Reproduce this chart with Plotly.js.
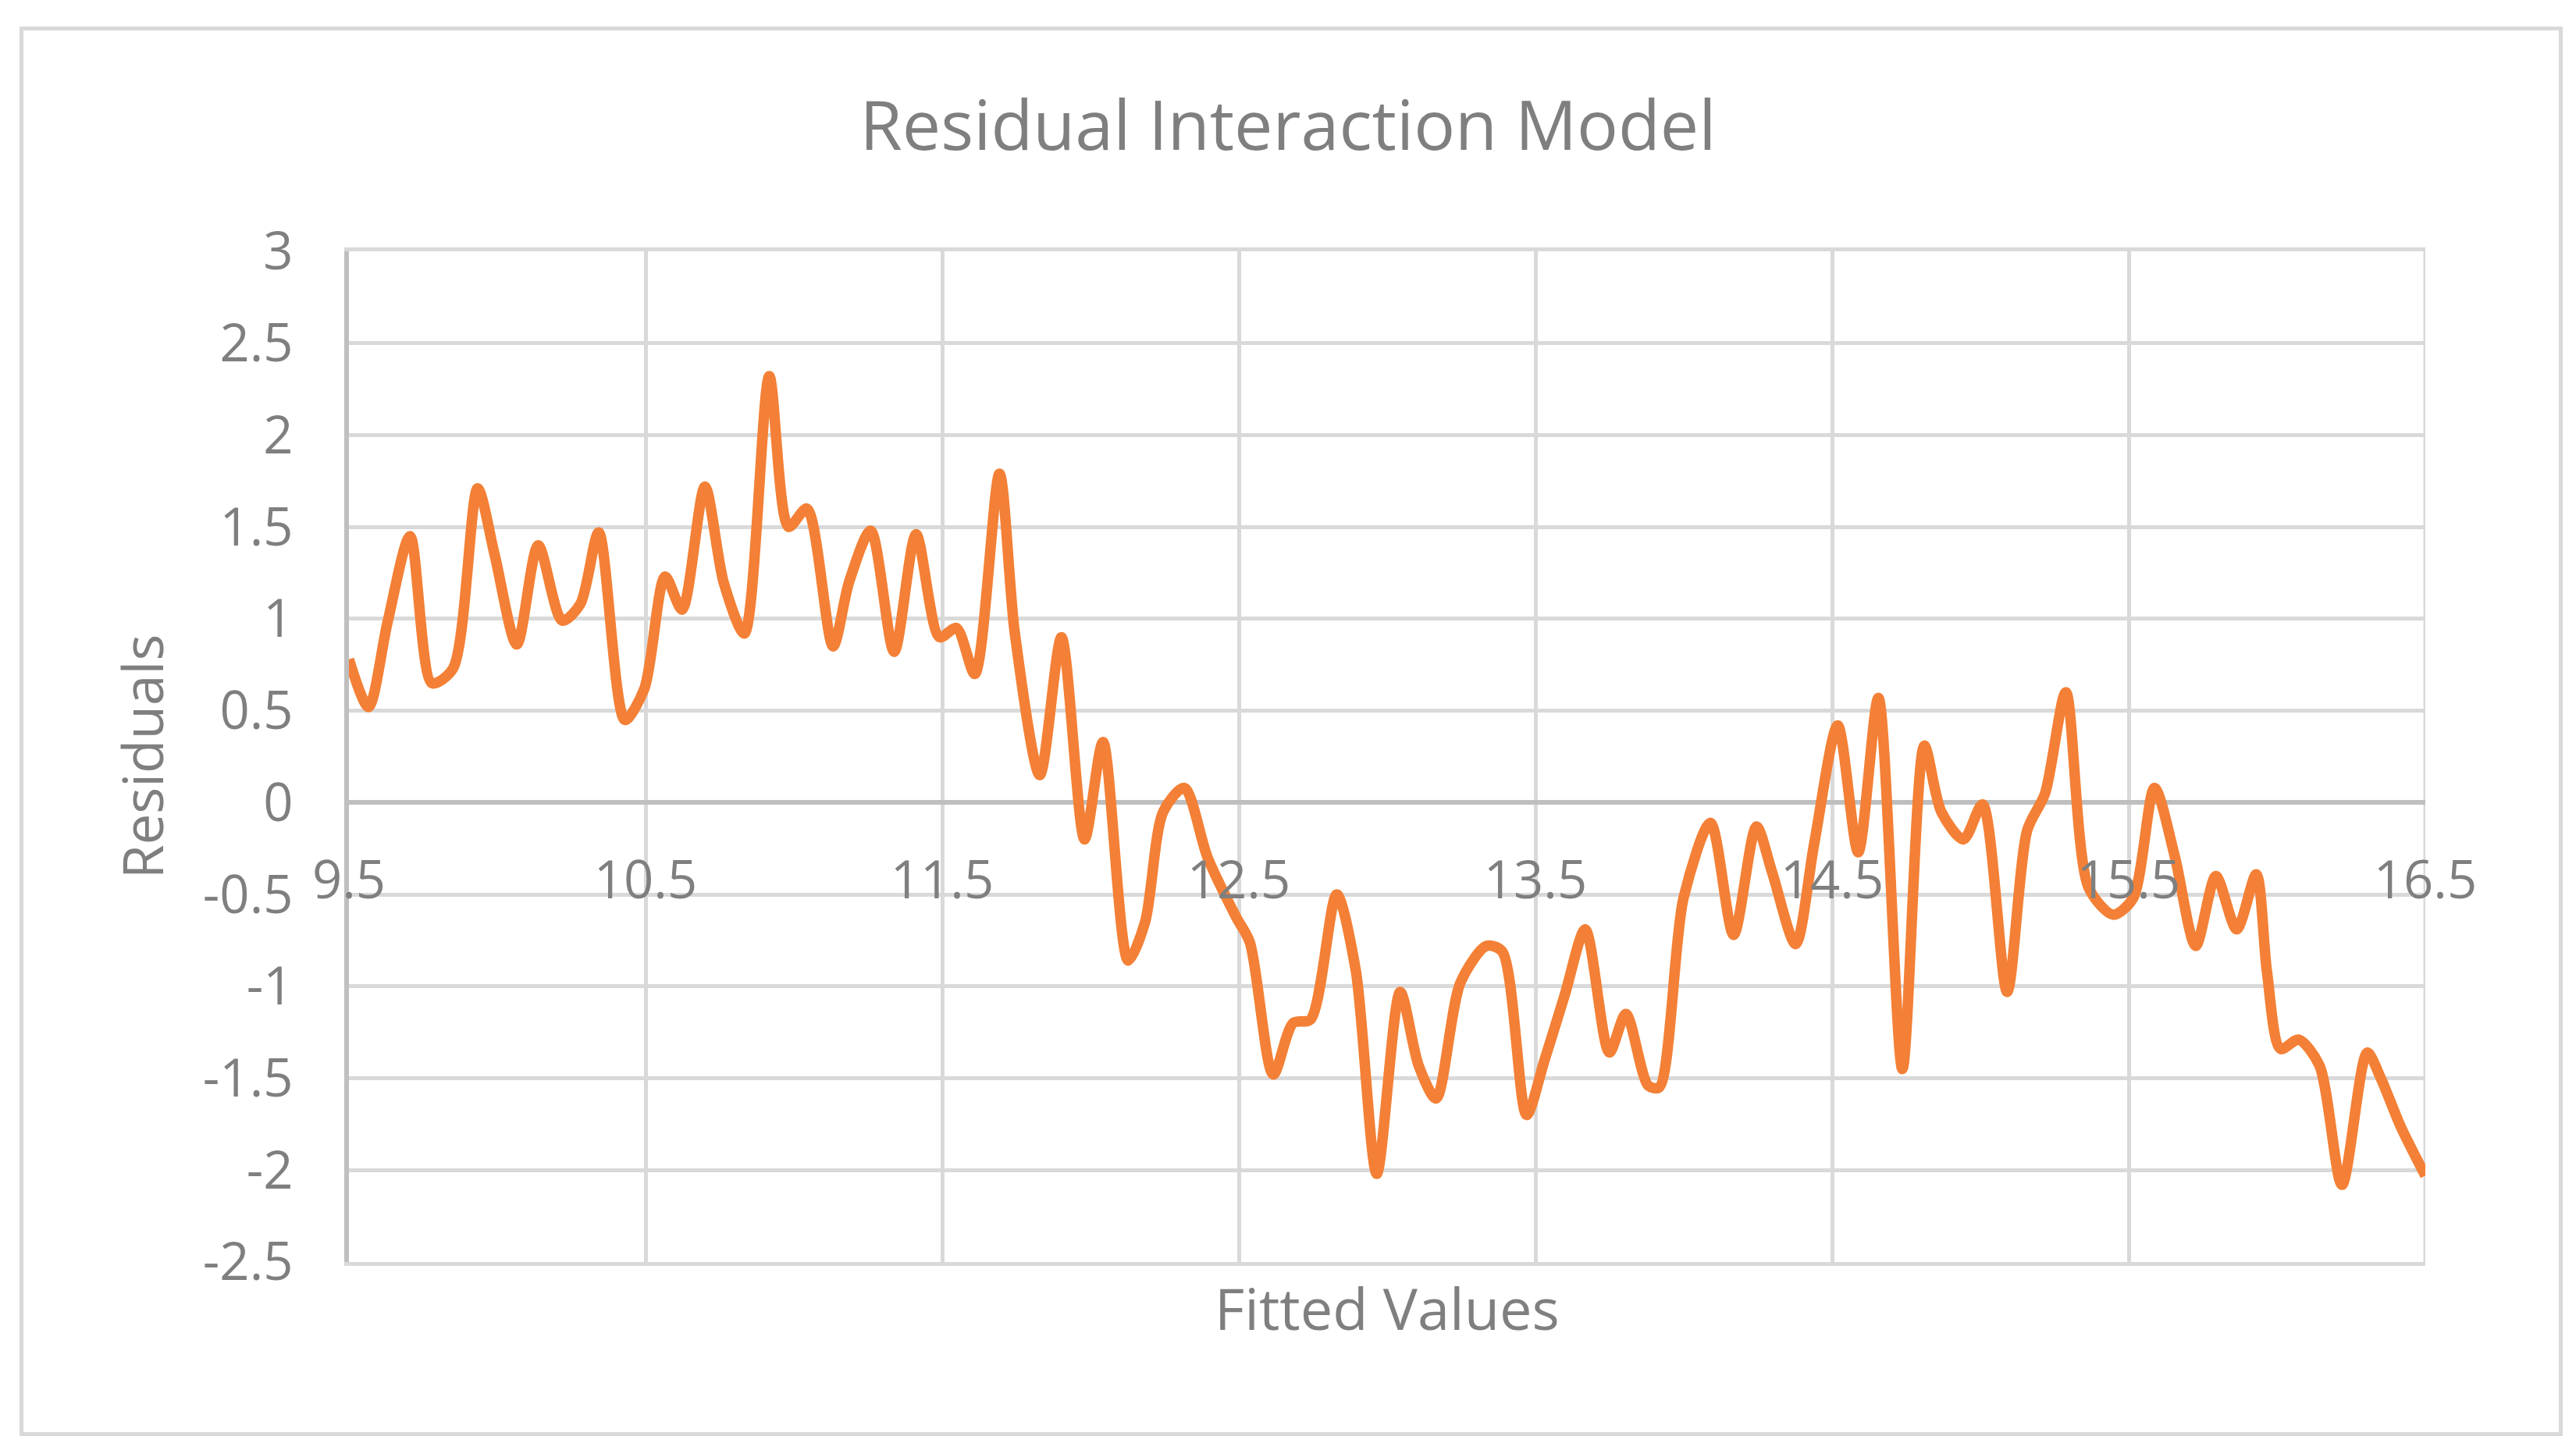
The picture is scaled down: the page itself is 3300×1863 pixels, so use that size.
<!DOCTYPE html>
<html>
<head>
<meta charset="utf-8">
<script src="https://cdn.plot.ly/plotly-3.0.1.min.js"></script>
<style>
  html, body { margin: 0; padding: 0; background: #ffffff; }
  #frame { position: absolute; left: 25px; top: 34px; width: 3258px; height: 1806px;
           border: 5px solid #D9D9D9; box-sizing: border-box; }
  #chart { position: absolute; left: 0; top: 0; width: 3300px; height: 1863px; }
</style>
</head>
<body>
<div id="frame"></div>
<div id="chart"></div>
<script>
// Fitted values (x) and residuals (y)
const fittedValues = [
  9.50, 9.566, 9.63, 9.706, 9.78, 9.851, 9.934, 9.991, 10.066, 10.138,
  10.219, 10.28, 10.342, 10.43, 10.496, 10.566, 10.623, 10.70, 10.763, 10.833,
  10.917, 10.982, 11.044, 11.132, 11.186, 11.259, 11.338, 11.412, 11.491, 11.548,
  11.61, 11.693, 11.745, 11.829, 11.902, 11.98, 12.042, 12.127, 12.184, 12.245,
  12.316, 12.395, 12.49, 12.537, 12.616, 12.683, 12.742, 12.83, 12.894, 12.965,
  13.044, 13.106, 13.165, 13.247, 13.335, 13.388, 13.47, 13.529, 13.60, 13.668,
  13.749, 13.805, 13.88, 13.917, 13.999, 14.09, 14.168, 14.245, 14.298, 14.377,
  14.44, 14.519, 14.588, 14.656, 14.737, 14.811, 14.868, 14.943, 15.007, 15.09,
  15.158, 15.218, 15.288, 15.364, 15.448, 15.515, 15.587, 15.655, 15.726, 15.794,
  15.864, 15.93, 15.966, 16.012, 16.073, 16.143, 16.219, 16.304, 16.35, 16.416,
  16.50
];
const residuals = [
  0.78, 0.52, 0.98, 1.45, 0.65, 0.73, 1.71, 1.35, 0.86, 1.40,
  0.99, 1.08, 1.47, 0.45, 0.62, 1.23, 1.05, 1.72, 1.20, 0.92,
  2.32, 1.50, 1.60, 0.85, 1.20, 1.48, 0.82, 1.46, 0.90, 0.95,
  0.70, 1.79, 0.92, 0.15, 0.90, -0.20, 0.33, -0.86, -0.65, -0.05,
  0.08, -0.30, -0.62, -0.76, -1.48, -1.20, -1.18, -0.50, -0.91, -2.02,
  -1.03, -1.43, -1.61, -0.98, -0.78, -0.81, -1.70, -1.41, -1.04, -0.69,
  -1.36, -1.15, -1.54, -1.55, -0.52, -0.11, -0.72, -0.13, -0.38, -0.77,
  -0.22, 0.42, -0.27, 0.57, -1.45, 0.31, -0.05, -0.20, -0.01, -1.03,
  -0.15, 0.05, 0.60, -0.46, -0.61, -0.52, 0.08, -0.29, -0.78, -0.40,
  -0.69, -0.39, -0.92, -1.34, -1.29, -1.43, -2.08, -1.36, -1.50, -1.76,
  -2.03
];
const xTickValues = [9.5, 10.5, 11.5, 12.5, 13.5, 14.5, 15.5, 16.5];
const xTickLabels = ["9.5", "10.5", "11.5", "12.5", "13.5", "14.5", "15.5", "16.5"];
const yTickValues = [3, 2.5, 2, 1.5, 1, 0.5, 0, -0.5, -1, -1.5, -2, -2.5];
const yTickLabels = ["3", "2.5", "2", "1.5", "1", "0.5", "0", "-0.5", "-1", "-1.5", "-2", "-2.5"];
const xRange = [9.5, 16.5];
const yRange = [-2.5, 3];

const FONT = "'Open Sans', Lato, sans-serif";
const TXT = "#7F7F7F";
const GRID = "#D9D9D9";
const AXIS = "#BFBFBF";

const trace = {
  x: fittedValues,
  y: residuals,
  type: "scatter",
  mode: "lines",
  line: { color: "#F38036", width: 13.5, shape: "spline", smoothing: 0.8 },
  hoverinfo: "x+y",
  showlegend: false
};
// empty helper trace so that the tick-label axis crossing at y = 0 is drawn
const labelAxisTrace = {
  x: [], y: [], type: "scatter", mode: "lines",
  xaxis: "x2", yaxis: "y", hoverinfo: "skip", showlegend: false
};

const layout = {
  width: 3300,
  height: 1863,
  margin: { l: 447, r: 193, t: 322, b: 246 },
  paper_bgcolor: "rgba(0,0,0,0)",
  plot_bgcolor: "rgba(0,0,0,0)",
  showlegend: false,
  title: {
    text: "Residual Interaction Model",
    font: { family: FONT, size: 88, color: TXT },
    x: 0.5, xref: "container", xanchor: "center",
    y: 1 - 161 / 1863, yref: "container", yanchor: "middle"
  },
  xaxis: {
    range: xRange,
    tickvals: xTickValues,
    showticklabels: false,
    ticks: "",
    showgrid: true, gridcolor: GRID, gridwidth: 5,
    zeroline: false,
    showline: true, mirror: true, linecolor: GRID, linewidth: 5,
    title: { text: "Fitted Values", font: { family: FONT, size: 74, color: TXT }, standoff: 33 }
  },
  xaxis2: {
    overlaying: "x",
    anchor: "free",
    position: (0 - yRange[0]) / (yRange[1] - yRange[0]),
    side: "bottom",
    range: xRange,
    tickvals: xTickValues,
    ticktext: xTickLabels,
    ticks: "",
    ticklabelstandoff: 55,
    tickfont: { family: FONT, size: 67, color: TXT },
    showgrid: false, zeroline: false, showline: false
  },
  yaxis: {
    range: yRange,
    tickvals: yTickValues,
    ticktext: yTickLabels,
    ticks: "",
    ticklabelstandoff: 52,
    tickfont: { family: FONT, size: 67, color: TXT },
    showgrid: true, gridcolor: GRID, gridwidth: 5,
    zeroline: true, zerolinecolor: AXIS, zerolinewidth: 6,
    showline: true, linecolor: AXIS, linewidth: 6,
    title: { text: "Residuals", font: { family: FONT, size: 71, color: TXT }, standoff: 29 }
  },
  shapes: [
    { type: "line", xref: "x", yref: "paper", x0: xRange[1], x1: xRange[1], y0: 0, y1: 1,
      line: { color: GRID, width: 5 }, layer: "below" }
  ]
};

Plotly.newPlot("chart", [trace, labelAxisTrace], layout, { displayModeBar: false, staticPlot: true });
</script>
</body>
</html>
